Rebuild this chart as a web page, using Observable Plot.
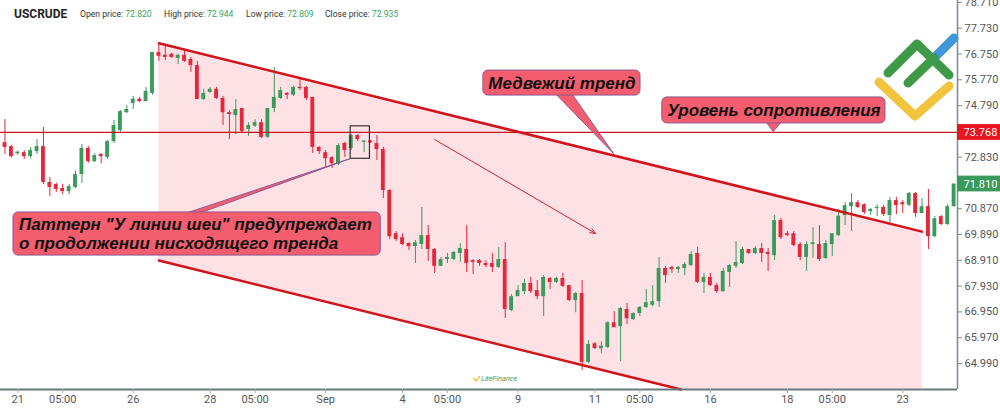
<!DOCTYPE html>
<html><head><meta charset="utf-8">
<script src="https://cdn.jsdelivr.net/npm/d3@7"></script>
<script src="https://cdn.jsdelivr.net/npm/@observablehq/plot@0.6"></script>
<style>
body{margin:0;background:#fff;}
#wrap{position:relative;width:1000px;height:411px;overflow:hidden;font-family:Roboto,"Liberation Sans",sans-serif;}
.h{position:absolute;top:9px;font-size:8.6px;color:#333;white-space:nowrap;line-height:11px;}
.h b{font-weight:normal;color:#3aa565;}
#title{position:absolute;left:14px;top:7px;font-size:12px;font-weight:bold;color:#222;line-height:14px;}
#logo{position:absolute;left:0;top:0;pointer-events:none;}
</style></head><body>
<div id="wrap"><div id="chart"></div>
<div id="title">USCRUDE</div>
<div class="h" style="left:80px">Open price: <b>72.820</b></div>
<div class="h" style="left:164px">High price: <b>72.944</b></div>
<div class="h" style="left:246px">Low price: <b>72.809</b></div>
<div class="h" style="left:325px">Close price: <b>72.935</b></div>
<svg id="logo" width="1000" height="411">
 <g fill="none" stroke-linecap="round" stroke-linejoin="round" stroke-width="9">
  <polyline points="879,82 915,116 949,86" stroke="#f2c43e"/>
  <polyline points="888,73 917,44 949,75" stroke="#3e9a47"/>
  <line x1="934" y1="58" x2="954" y2="38" stroke="#3f96db"/>
  <line x1="908" y1="83" x2="934" y2="58" stroke="#3e9a47"/>
 </g>
 <text x="481" y="381" font-size="7" font-family="Liberation Sans" font-style="italic" fill="#3a9a5c">LiteFinance</text>
 <polyline points="473,378 476,381 480,376" fill="none" stroke="#f2c43e" stroke-width="1.5"/>
</svg>
</div>
<script>
// ---------- data ----------
const open  = [73.38,73.23,72.96,73.00,72.85,73.04,73.23,71.87,71.79,71.64,71.52,71.68,72.17,73.16,72.66,72.93,72.82,73.42,73.84,74.52,74.87,75.03,74.94,75.25,76.81,76.70,76.74,76.58,76.70,76.54,76.31,75.02,75.29,75.41,75.06,74.52,74.41,74.68,73.88,74.01,74.14,73.58,74.68,75.06,75.25,75.18,75.48,75.48,75.10,73.20,73.00,72.81,72.55,73.35,73.16,73.65,73.40,73.44,73.35,73.12,71.56,69.92,69.77,69.55,69.43,69.51,69.85,69.32,68.68,68.94,68.94,69.17,69.32,68.90,68.90,68.79,68.79,68.64,68.94,67.00,67.53,67.72,68.03,67.76,67.53,68.22,68.07,68.22,67.95,67.38,67.65,65.03,65.74,65.55,65.60,66.54,66.39,67.04,66.66,66.89,67.12,67.20,67.34,68.60,68.64,68.56,68.60,68.71,69.17,68.07,68.26,67.95,67.72,68.45,68.68,68.79,69.32,69.17,69.36,69.21,69.09,70.42,69.92,69.92,69.51,69.02,69.51,69.51,68.98,69.51,69.85,70.61,70.95,71.10,71.02,70.76,70.88,70.92,70.61,71.18,71.10,71.00,71.45,70.69,70.95,69.81,70.57,70.27,70.95];
const high  = [74.26,73.28,73.06,73.08,73.20,73.50,73.96,72.06,71.85,71.79,71.79,72.30,73.31,73.24,72.95,72.97,73.46,74.22,74.60,74.79,75.14,75.10,75.48,76.81,77.15,77.07,76.77,76.74,76.87,76.62,76.47,75.41,75.48,75.48,75.14,74.60,75.02,74.68,74.14,74.25,74.25,74.68,76.24,75.48,75.29,75.52,75.86,75.52,75.10,73.23,73.08,72.85,73.34,73.39,73.69,73.69,73.46,73.46,73.65,73.20,71.60,70.00,69.92,69.58,69.66,70.92,70.23,69.36,69.02,69.17,69.24,69.55,70.23,68.94,68.94,68.90,69.17,69.40,69.58,67.61,67.95,68.18,68.26,68.14,68.33,68.26,68.26,68.41,67.95,67.69,68.14,65.86,65.78,65.82,66.58,66.96,67.12,67.27,66.92,67.15,67.80,67.95,69.02,68.68,68.68,68.68,68.83,69.24,69.40,68.41,68.41,68.03,68.60,68.75,69.62,69.40,69.32,69.43,69.55,69.36,70.61,70.49,70.00,70.00,69.58,69.62,70.15,70.23,69.66,69.92,70.85,71.10,71.45,71.18,71.06,70.88,71.02,71.00,71.30,71.30,71.18,71.49,71.49,71.26,71.60,70.57,70.61,71.02,71.75];
const low   = [72.93,72.80,72.90,72.74,72.76,72.93,71.79,71.33,71.48,71.40,71.40,71.64,71.83,72.60,72.62,72.58,72.74,73.35,73.77,74.48,74.64,74.90,74.94,75.18,76.47,76.50,76.58,76.35,76.43,76.05,75.02,74.98,75.25,75.02,74.03,73.50,73.69,73.77,73.61,73.96,73.54,73.54,74.52,75.02,75.02,75.14,75.36,74.98,72.97,72.93,72.43,72.40,72.51,72.82,73.08,73.42,73.00,73.35,72.70,71.26,69.69,69.62,69.47,69.28,68.79,69.32,68.86,68.41,68.68,68.79,68.90,68.83,68.45,68.37,68.68,68.64,68.45,68.60,66.70,66.96,67.53,67.61,67.65,67.42,66.77,67.80,68.03,67.88,67.34,66.92,64.72,64.99,65.52,65.37,65.56,66.35,65.07,66.47,66.62,66.77,67.08,67.15,67.12,68.03,68.41,68.41,68.33,68.68,68.03,67.65,67.92,67.65,67.69,67.88,68.60,68.75,69.13,69.13,68.83,68.49,68.90,69.70,69.81,69.43,68.90,68.49,68.98,68.86,68.94,69.05,69.81,70.23,70.00,70.88,70.65,70.61,70.57,70.57,70.34,70.65,70.69,70.95,70.54,70.69,69.32,69.77,70.23,70.23,70.92];
const close = [73.20,72.85,73.02,72.85,73.08,73.23,71.87,71.68,71.60,71.52,71.71,72.17,73.16,72.66,72.89,72.85,73.42,74.03,74.56,74.64,75.03,74.94,75.33,76.81,76.66,76.62,76.62,76.70,76.47,76.31,75.02,75.25,75.41,75.06,74.52,74.45,74.64,73.80,74.03,74.14,73.58,74.68,75.10,75.36,75.18,75.48,75.44,75.06,73.20,73.04,72.77,72.58,73.27,73.08,73.65,73.50,73.44,73.38,73.12,71.56,69.81,69.70,69.51,69.43,69.58,69.85,69.32,68.68,68.94,69.02,69.21,69.36,68.79,68.83,68.79,68.71,68.64,68.94,67.04,67.53,67.76,68.03,67.72,67.53,68.26,68.07,68.22,67.92,67.38,67.65,65.03,65.71,65.56,65.65,66.54,66.35,67.08,66.69,66.89,67.12,67.30,67.34,68.60,68.33,68.56,68.64,68.75,69.13,68.07,68.26,67.95,67.72,68.49,68.71,68.83,69.32,69.17,69.36,69.17,69.13,70.42,69.77,69.85,69.47,69.02,69.51,69.58,68.94,69.55,69.92,70.59,70.99,71.10,70.92,70.73,70.84,70.92,70.65,71.18,70.99,71.02,71.45,70.69,70.95,69.81,70.49,70.27,70.95,71.81];

const xTickIdx    = [2,9,20,32,39,50,62,69,80,92,99,110,122,129,140];
const xTickLabels = ["21","05:00","26","28","05:00","Sep","4","05:00","9","11","05:00","16","18","05:00","23"];
const yTicks = [64.99,65.97,66.95,67.93,68.91,69.89,70.87,72.83,74.79,75.77,76.75,77.73,78.71];

const resistance = 73.768;
const lastPrice  = 71.81;
// channel (candle index, price)
const channelIdx   = [24, 143];
const upperChannel = [77.16, 70.00];
const lowerChannel = [68.90, 61.74];
const priceFloor = 64.002, priceCeil = 78.782;

// annotations, in candle index / price
const boxes = [
  {x1:74.6, x2:99.1, y1:75.17, y2:76.12},
  {x1:102.5, x2:137.3, y1:74.11, y2:75.10},
  {x1:1.33, x2:58.6, y1:69.09, y2:70.73}
];
const centeredLabels = [
  {x:86.85, y:75.64, text:"Медвежий тренд"},
  {x:119.9, y:74.60, text:"Уровень сопротивления"}
];
const leftLabels = [
  {x:2.2, y:70.27, text:"Паттерн \"У линии шеи\" предупреждает"},
  {x:2.2, y:69.55, text:"о продолжении нисходящего тренда"}
];
const tails = [
  {id:1, pts:[[86.0,75.2],[94.9,72.97],[88.5,75.2]]},
  {id:2, pts:[[118.8,74.13],[119.8,73.80],[120.9,74.13]]},
  {id:3, pts:[[28.2,70.70],[53.9,72.78],[30.3,70.70]]}
];
const trendArrow = {x1:67.0, y1:73.50, x2:92.1, y2:69.93};
const patternBox = {x1:53.9, x2:56.9, y1:72.77, y2:74.00};

// ---------- build ----------
const candles = open.map((o,i)=>({i,o,h:high[i],l:low[i],c:close[i]}));
const G="#3a9a5c", R="#e6263b";
const col = d => d.c>=d.o ? G : R;
const bodyLo = d => { const lo=Math.min(d.o,d.c), hi=Math.max(d.o,d.c); return hi-lo<0.05 ? (lo+hi)/2-0.025 : lo; };
const bodyHi = d => { const lo=Math.min(d.o,d.c), hi=Math.max(d.o,d.c); return hi-lo<0.05 ? (lo+hi)/2+0.025 : hi; };

const slope = (upperChannel[1]-upperChannel[0])/(channelIdx[1]-channelIdx[0]);
const lowAt = i => lowerChannel[0] + slope*(i-channelIdx[0]);
const upAt  = i => upperChannel[0] + slope*(i-channelIdx[0]);
const hitIdx = channelIdx[0] + (priceFloor - lowerChannel[0])/slope;
const shade = [channelIdx[0], hitIdx, channelIdx[1]].map(i=>({i, t:upAt(i), b:Math.max(lowAt(i),priceFloor)}));
const upperLine = channelIdx.map((i,k)=>({i, v:upperChannel[k]}));
const lowerLine = [channelIdx[0], hitIdx].map(i=>({i, v:lowAt(i)}));
const tailPts = tails.flatMap(t=>t.pts.map(p=>({id:t.id, x:p[0], y:p[1]})));

const xDomain=[-0.697,148.53];
const pxPerIdx = 6.413;
const tagX2 = xDomain[1] + 43/pxPerIdx;
const tags = [{v:resistance, fill:"#e8141e", text:"73.768"},{v:lastPrice, fill:"#3a9a5c", text:"71.810"}];

const boxFill="#f35d6e", boxStroke="#8e5a92";
const txt = {fill:"#111", fontSize:17, fontWeight:"bold", fontStyle:"italic", fontFamily:"'Liberation Sans', Arial, sans-serif"};

const chart = Plot.plot({
  width:1000, height:411, marginLeft:0, marginRight:43, marginTop:0, marginBottom:22,
  x:{type:"linear", domain:xDomain, axis:null},
  y:{domain:[priceFloor, priceCeil], axis:null},
  color:{type:"identity"},
  style:{fontFamily:"Roboto, 'Liberation Sans', sans-serif", fontSize:"11px", color:"#555", background:"#fff", overflow:"visible"},
  marks:[
    Plot.areaY(shade,{x:"i", y1:"b", y2:"t", fill:"#fde1e5", curve:"linear"}),
    Plot.ruleX(candles,{x:"i", y1:"l", y2:"h", stroke:col, strokeWidth:1}),
    Plot.rect(candles,{x1:d=>d.i-0.3, x2:d=>d.i+0.3, y1:bodyLo, y2:bodyHi, fill:col}),
    Plot.ruleY([resistance],{stroke:"#cc1420", strokeWidth:1.2}),
    Plot.line(upperLine,{x:"i", y:"v", stroke:"#d3131c", strokeWidth:2.5}),
    Plot.line(lowerLine,{x:"i", y:"v", stroke:"#d3131c", strokeWidth:2.5}),
    Plot.rect([patternBox],{x1:"x1",x2:"x2",y1:"y1",y2:"y2", fill:"none", stroke:"#111", strokeWidth:1}),
    Plot.arrow([trendArrow],{x1:"x1",y1:"y1",x2:"x2",y2:"y2", stroke:"#d42030", strokeWidth:1, headLength:9, headAngle:45}),
    Plot.line(tailPts,{x:"x", y:"y", z:"id", fill:boxFill, stroke:boxStroke, strokeWidth:1, curve:"linear-closed"}),
    Plot.rect(boxes,{x1:"x1",x2:"x2",y1:"y1",y2:"y2", fill:boxFill, stroke:boxStroke, strokeWidth:1, rx:5}),
    Plot.text(centeredLabels,{x:"x", y:"y", text:"text", textAnchor:"middle", ...txt}),
    Plot.text(leftLabels,{x:"x", y:"y", text:"text", textAnchor:"start", ...txt}),
    Plot.ruleX([xDomain[1]],{stroke:"#7d8a92", strokeWidth:1.5}),
    Plot.ruleY([priceFloor],{stroke:"#6b7880", strokeWidth:2}),
    Plot.axisY({anchor:"right", ticks:yTicks, tickFormat:d3.format(".3f"), tickSize:4, tickPadding:3, stroke:"#888", fill:"#555", fontSize:11}),
    Plot.axisX({ticks:xTickIdx, tickFormat:d=>xTickLabels[xTickIdx.indexOf(d)], tickSize:4, tickPadding:2, stroke:"#aaa", fill:"#555", fontSize:11}),
    Plot.rect(tags,{x1:xDomain[1], x2:tagX2, y1:d=>d.v-0.3, y2:d=>d.v+0.3, fill:"fill"}),
    Plot.text(tags,{x:xDomain[1], y:"v", text:"text", dx:6, textAnchor:"start", fill:"#fff", fontSize:11})
  ]
});
document.getElementById("chart").appendChild(chart);
</script>
</body></html>
